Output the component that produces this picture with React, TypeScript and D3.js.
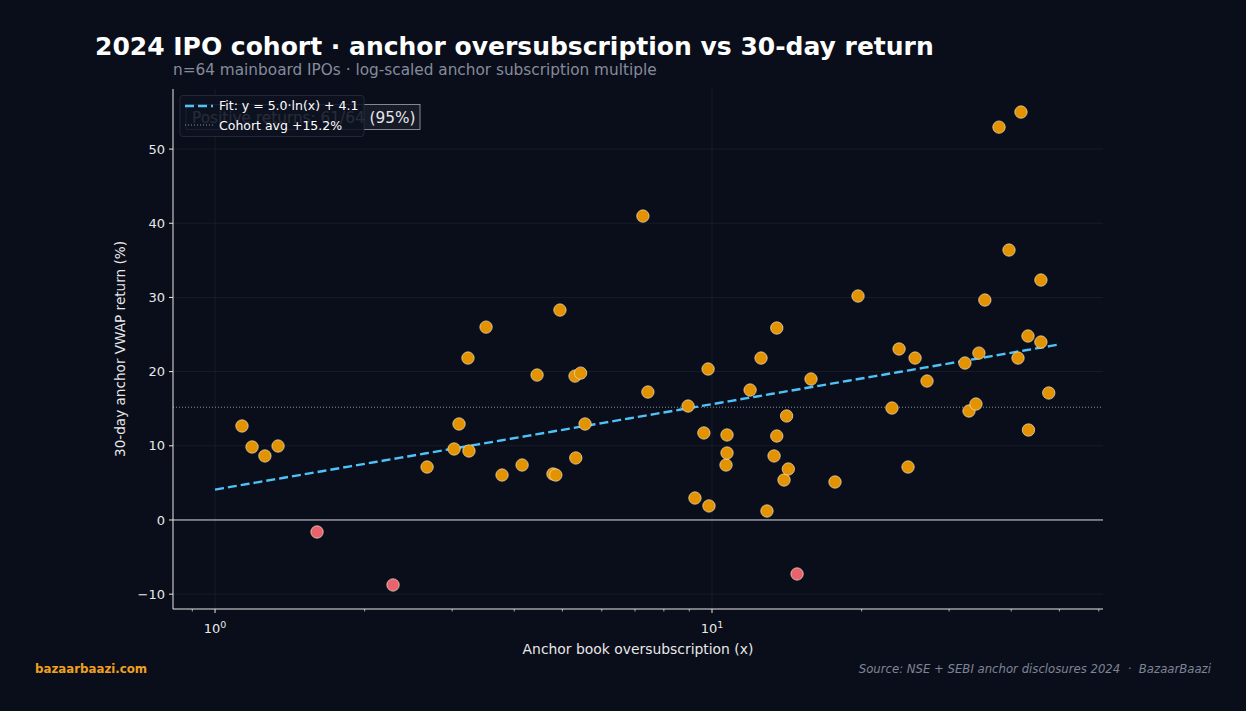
import * as d3 from "d3";

// anchor subscription multiple (x) and 30-day VWAP return (%) per IPO
const subscription = [
  1.133, 1.187, 1.26, 1.339, 1.604, 2.281, 2.671, 3.027, 3.097, 3.228, 3.243,
  3.51, 3.78, 4.148, 4.446, 4.786, 4.85, 4.943, 5.3, 5.32, 5.44, 5.553, 7.26,
  7.43, 8.95, 9.24, 9.63, 9.82, 9.86, 10.67, 10.72, 10.72, 11.93, 12.55, 12.9,
  13.33, 13.5, 13.5, 13.96, 14.13, 14.24, 14.83, 15.82, 17.68, 19.67, 23.02,
  23.79, 24.8, 25.62, 27.08, 32.28, 32.89, 33.97, 34.44, 35.4, 37.8, 39.59,
  41.28, 41.85, 43.23, 43.33, 45.9, 45.9, 47.6,
];
const returns = [
  12.67, 9.84, 8.63, 9.97, -1.62, -8.76, 7.14, 9.57, 12.94, 21.83, 9.3, 26.0,
  6.06, 7.41, 19.54, 6.2, 6.06, 28.3, 19.4, 8.36, 19.8, 12.94, 40.97, 17.25,
  15.36, 2.96, 11.73, 20.35, 1.89, 7.41, 9.03, 11.46, 17.52, 21.83, 1.21, 8.63,
  11.32, 25.88, 5.39, 14.02, 6.87, -7.28, 19.0, 5.12, 30.19, 15.09, 23.05, 7.14,
  21.83, 18.73, 21.16, 14.69, 15.63, 22.5, 29.65, 52.96, 36.39, 21.83, 54.99,
  24.8, 12.13, 32.35, 23.99, 17.12,
];

const fitSlope = 5.0;
const fitIntercept = 4.1;
const fitRange = [1, 50];
const cohortAvg = 15.2;
const positiveCount = 61;
const totalCount = 64;
const yTicks = [-10, 0, 10, 20, 30, 40, 50];
const xMajor = [1, 10];
const xMinor = [0.9, 2, 3, 4, 5, 6, 7, 8, 9, 20, 30, 40, 50, 60];

const W = 1246;
const H = 711;
const BG = "#0a0e1a";
const FONT = "DejaVu Sans, sans-serif";
const ORANGE = "#e39200";
const RED = "#e8636b";
const BLUE = "#4fc3f7";
const AXIS = "#e8e8e8";
const GRID = "#1a1f2c";

const plot = { left: 173, right: 1103, top: 89, bottom: 609 };

export default function App() {
  const x = d3
    .scaleLog()
    .domain([0.823, 61.2])
    .range([plot.left, plot.right]);
  const y = d3.scaleLinear().domain([-12.0, 58.1]).range([plot.bottom, plot.top]);

  const points = subscription.map((s, i) => ({ s, r: returns[i] }));

  // fitted log curve, sampled along the x range
  const fitXs = d3.range(0, 101).map((i) =>
    Math.exp(
      Math.log(fitRange[0]) +
        ((Math.log(fitRange[1]) - Math.log(fitRange[0])) * i) / 100
    )
  );
  const fitLine = d3
    .line<number>()
    .x((d) => x(d))
    .y((d) => y(fitSlope * Math.log(d) + fitIntercept));

  const pct = Math.round((positiveCount / totalCount) * 100);

  return (
    <div style={{ position: "fixed", inset: 0, background: BG }}>
      <svg width={W} height={H} style={{ display: "block" }} fontFamily={FONT}>
        <rect width={W} height={H} fill={BG} />

        <text x={95} y={55} fill="#ffffff" fontSize={25} fontWeight="bold">
          2024 IPO cohort · anchor oversubscription vs 30-day return
        </text>
        <text x={173} y={75} fill="#868b9c" fontSize={15.3}>
          n=64 mainboard IPOs · log-scaled anchor subscription multiple
        </text>

        {/* grid */}
        {yTicks.map((t) => (
          <line
            key={`gy${t}`}
            x1={plot.left}
            x2={plot.right}
            y1={y(t)}
            y2={y(t)}
            stroke={GRID}
            strokeWidth={0.8}
          />
        ))}
        {xMajor.map((t) => (
          <line
            key={`gx${t}`}
            x1={x(t)}
            x2={x(t)}
            y1={plot.top}
            y2={plot.bottom}
            stroke={GRID}
            strokeWidth={0.8}
          />
        ))}

        {/* zero line and cohort average */}
        <line
          x1={plot.left}
          x2={plot.right}
          y1={y(0)}
          y2={y(0)}
          stroke="#d8d8dc"
          strokeWidth={1}
        />
        <line
          x1={plot.left}
          x2={plot.right}
          y1={y(cohortAvg)}
          y2={y(cohortAvg)}
          stroke="#8a8f9c"
          strokeWidth={1}
          strokeDasharray="1 2"
        />

        {/* fit */}
        <path
          d={fitLine(fitXs) ?? ""}
          fill="none"
          stroke={BLUE}
          strokeWidth={2.4}
          strokeDasharray="9 4"
        />

        {/* points */}
        {points.map((p, i) => (
          <circle
            key={i}
            cx={x(p.s)}
            cy={y(p.r)}
            r={6.2}
            fill={p.r < 0 ? RED : ORANGE}
            stroke="#f3e6d0"
            strokeOpacity={0.85}
            strokeWidth={0.8}
          />
        ))}

        {/* spines */}
        <line
          x1={plot.left}
          x2={plot.left}
          y1={plot.top}
          y2={plot.bottom}
          stroke={AXIS}
          strokeWidth={1}
        />
        <line
          x1={plot.left}
          x2={plot.right}
          y1={plot.bottom}
          y2={plot.bottom}
          stroke={AXIS}
          strokeWidth={1}
        />

        {/* y ticks */}
        {yTicks.map((t) => (
          <g key={`ty${t}`}>
            <line
              x1={plot.left - 4}
              x2={plot.left}
              y1={y(t)}
              y2={y(t)}
              stroke={AXIS}
            />
            <text
              x={plot.left - 8}
              y={y(t)}
              dy="0.35em"
              textAnchor="end"
              fill={AXIS}
              fontSize={13}
            >
              {t < 0 ? `\u2212${Math.abs(t)}` : t}
            </text>
          </g>
        ))}

        {/* x ticks */}
        {xMinor.map((t) => (
          <line
            key={`mx${t}`}
            x1={x(t)}
            x2={x(t)}
            y1={plot.bottom}
            y2={plot.bottom + 2.5}
            stroke={AXIS}
            strokeWidth={0.7}
          />
        ))}
        {xMajor.map((t, i) => (
          <g key={`tx${t}`}>
            <line
              x1={x(t)}
              x2={x(t)}
              y1={plot.bottom}
              y2={plot.bottom + 4}
              stroke={AXIS}
            />
            <text
              x={x(t)}
              y={plot.bottom + 24}
              textAnchor="middle"
              fill={AXIS}
              fontSize={13}
            >
              10
              <tspan dy={-5} fontSize={9.5}>
                {i}
              </tspan>
            </text>
          </g>
        ))}

        <text
          x={(plot.left + plot.right) / 2}
          y={654}
          textAnchor="middle"
          fill={AXIS}
          fontSize={13.9}
        >
          Anchor book oversubscription (x)
        </text>
        <text
          transform={`translate(125,${(plot.top + plot.bottom) / 2}) rotate(-90)`}
          textAnchor="middle"
          fill={AXIS}
          fontSize={13.6}
        >
          30-day anchor VWAP return (%)
        </text>

        {/* positive-returns badge */}
        <rect
          x={186}
          y={104.5}
          width={234}
          height={25}
          fill="#161b27"
          stroke="#a0a5b0"
          strokeWidth={0.8}
        />
        <text x={192} y={123} fill="#e6e6ea" fontSize={15.3}>
          Positive returns: {positiveCount}/{totalCount} ({pct}%)
        </text>

        {/* legend */}
        <rect
          x={180}
          y={95.5}
          width={184}
          height={41}
          rx={3}
          fill="#0c1120"
          fillOpacity={0.88}
          stroke="#2a3040"
          strokeWidth={0.8}
        />
        <line
          x1={185}
          x2={213}
          y1={106}
          y2={106}
          stroke={BLUE}
          strokeWidth={2.4}
          strokeDasharray="9 4"
        />
        <text x={219} y={110} fill="#ffffff" fontSize={12.5}>
          Fit: y = {fitSlope.toFixed(1)}·ln(x) + {fitIntercept.toFixed(1)}
        </text>
        <line
          x1={185}
          x2={213}
          y1={125}
          y2={125}
          stroke="#8a8f9c"
          strokeWidth={1}
          strokeDasharray="1 2"
        />
        <text x={219} y={129.5} fill="#ffffff" fontSize={12.5}>
          Cohort avg +{cohortAvg.toFixed(1)}%
        </text>

        {/* footer */}
        <text x={35} y={673} fill="#f0a020" fontSize={11.8} fontWeight="bold">
          bazaarbaazi.com
        </text>
        <text
          x={1211}
          y={673}
          textAnchor="end"
          fill="#7f8496"
          fontSize={11.7}
          fontStyle="italic"
          style={{ whiteSpace: "pre" }}
        >
          {"Source: NSE + SEBI anchor disclosures 2024  \u00b7  BazaarBaazi"}
        </text>
      </svg>
    </div>
  );
}
